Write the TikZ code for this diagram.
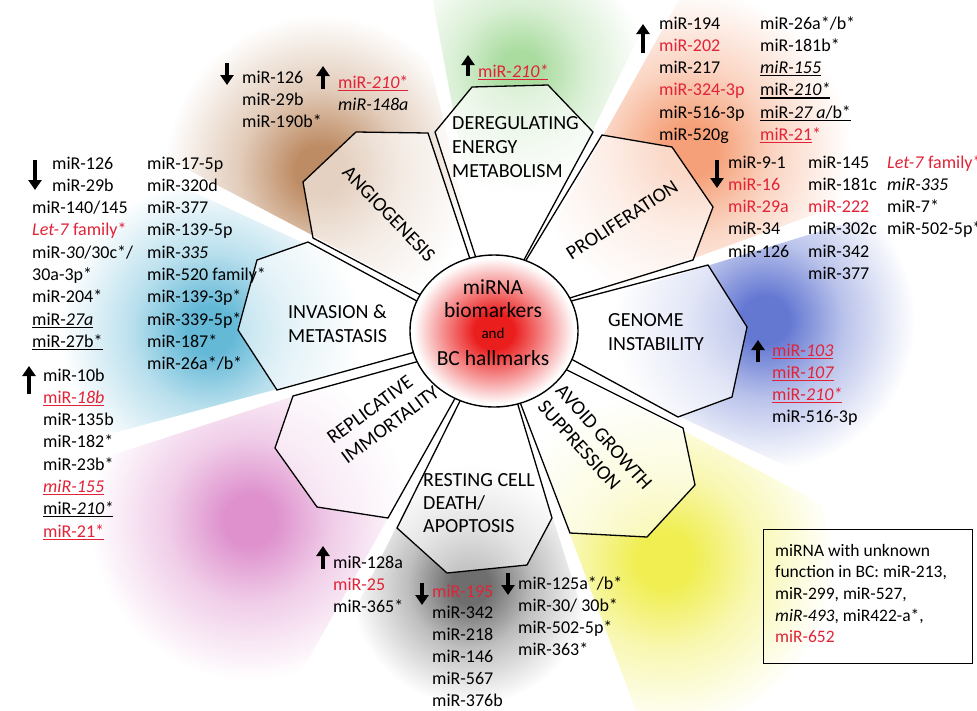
\documentclass[tikz,border=0pt]{standalone}
\usepackage{fontspec}
\setmainfont{Carlito}
\usetikzlibrary{calc,arrows.meta}
\definecolor{mired}{RGB}{226,35,55}
\definecolor{cred}{RGB}{235,30,30}
\definecolor{gBrown}{RGB}{190,140,100}
\definecolor{gGreen}{RGB}{170,220,160}
\definecolor{gOrange}{RGB}{245,160,120}
\definecolor{gBlue}{RGB}{100,120,210}
\definecolor{gYellow}{RGB}{240,238,80}
\definecolor{gGray}{RGB}{110,110,110}
\definecolor{gPink}{RGB}{222,145,205}
\definecolor{gCyan}{RGB}{100,185,215}
\colorlet{glowcol}{white}
\pgfdeclareradialshading{redglow}{\pgfpoint{0bp}{0bp}}{color(0bp)=(cred); color(6bp)=(cred); color(17bp)=(cred!40!white); color(24bp)=(white); color(50bp)=(white)}
\pgfdeclareradialshading[glowcol]{glowshade}{\pgfpoint{0bp}{0bp}}{color(0bp)=(glowcol); color(4bp)=(glowcol); color(13bp)=(glowcol!45!white); color(25bp)=(white); color(50bp)=(white)}
\newcommand\undl[1]{\setbox0\hbox{#1}\rlap{\rule[-2.6pt]{\wd0}{1.1pt}}\box0}
\newcommand\mlist[1]{\begin{tabular}[t]{@{}l@{}}#1\end{tabular}}
\newcommand\rd[1]{\textcolor{mired}{#1}}
\newcommand\lstfont{\fontsize{18}{22.3}\selectfont}
\newcommand\hmfont{\fontsize{20}{24}\selectfont}
\newcommand\hmglow[5]{%
  \begin{scope}
    \clip (C) -- ($(C)+({-(#1)}:800)$) -- ($(C)+({-((#1)+(#2))/2}:1100)$) -- ($(C)+({-(#2)}:800)$) -- cycle;
    \colorlet{glowcol}{#3}
    \shade[shading=glowshade] #4 circle (#5);
  \end{scope}}
\tikzset{
  listtxt/.style={anchor=base west, inner sep=0pt, font=\lstfont},
  hmtxt/.style={inner sep=0pt, font=\hmfont},
  petal/.style={draw=black, line width=1.3pt, fill=white, fill opacity=0.6},
  bigarrow/.style={line width=3.4pt, -{Triangle[width=13pt,length=10pt]}},
}
\begin{document}
\begin{tikzpicture}[x=1pt,y=-1pt]
\useasboundingbox (0,0) rectangle (977,710);
\coordinate (C) at (494,331);

% glows
\hmglow{100.5}{63.8}{gGreen}{(520,70)}{125}
\hmglow{60.8}{20}{gOrange}{(690,150)}{160}
\hmglow{17}{-24.8}{gBlue}{(765,320)}{150}
\hmglow{-27.8}{-69.5}{gYellow}{(665,560)}{170}
\hmglow{-72.5}{-116.5}{gGray}{(470,585)}{120}
\hmglow{240.5}{198}{gPink}{(250,520)}{160}
\hmglow{195}{155.2}{gCyan}{(210,330)}{150}
\hmglow{152.2}{103.5}{gBrown}{(320,170)}{155}

% petals
\filldraw[petal] ($(435,132)!1.1!(475,255)$) -- (435,132) -- (472,87) -- (548,85) -- (593,132) -- ($(593,132)!1.1!(525,258)$) -- cycle;
\filldraw[petal] ($(602,135)!1.1!(528,257)$) -- (602,135) -- (672,147) -- (713,207) -- (693,260) -- ($(693,260)!1.1!(573,297)$) -- cycle;
\filldraw[petal] ($(708,265)!1.1!(575,300)$) -- (708,265) -- (747,327) -- (732,397) -- (678,417) -- ($(678,417)!1.1!(573,360)$) -- cycle;
\filldraw[petal] ($(683,428)!1.1!(567,370)$) -- (683,428) -- (695,485) -- (647,537) -- (570,533) -- ($(570,533)!1.1!(523,410)$) -- cycle;
\filldraw[petal] ($(552,518)!1.1!(518,405)$) -- (552,518) -- (527,565) -- (447,573) -- (397,528) -- ($(397,528)!1.1!(457,407)$) -- cycle;
\filldraw[petal] ($(388,518)!1.1!(453,402)$) -- (388,518) -- (317,507) -- (275,448) -- (293,396) -- ($(293,396)!1.1!(416,362)$) -- cycle;
\filldraw[petal] ($(277,390)!1.1!(415,352)$) -- (277,390) -- (238,330) -- (257,260) -- (308,242) -- ($(308,242)!1.1!(415,300)$) -- cycle;
\filldraw[petal] ($(313,238)!1.1!(417,293)$) -- (313,238) -- (303,182) -- (356,132) -- (428,133) -- ($(428,133)!1.1!(468,253)$) -- cycle;

% centre
\shadedraw[shading=redglow, line width=1.4pt] (C) ellipse [x radius=84pt, y radius=76pt];
\node[anchor=base, inner sep=0pt, font=\fontsize{21.5}{24}\selectfont] (c1) at (493,294) {miRNA};
\node[anchor=base, inner sep=0pt, font=\fontsize{21.5}{24}\selectfont] (c2) at (493,317) {biomarkers};
\node[anchor=base, inner sep=0pt, font=\fontsize{15}{18}\selectfont] (c3) at (493,338) {and};
\node[anchor=base, inner sep=0pt, font=\fontsize{21.5}{24}\selectfont] (c4) at (493,365) {BC hallmarks};

% hallmark labels
\node[hmtxt, rotate=-46] (hAngio) at (389,214) {ANGIOGENESIS};
\node[hmtxt, anchor=base west] (hDereg) at (452,129) {\mlist{DEREGULATING\\ENERGY\\METABOLISM}};
\node[hmtxt, rotate=33] (hProl) at (622,220) {PROLIFERATION};
\node[hmtxt, anchor=base west] (hGen) at (608,326) {\mlist{GENOME\\INSTABILITY}};
\node[hmtxt, rotate=-48, align=left] (hAvoid) at (595,445) {AVOID GROWTH\\SUPPRESSION};
\node[inner sep=0pt, font=\fontsize{20}{23}\selectfont, anchor=base west] (hRest) at (423,486) {\mlist{RESTING CELL\\DEATH/\\APOPTOSIS}};
\node[hmtxt, rotate=36.5, align=left] (hRepl) at (383,415) {REPLICATIVE\\IMMORTALITY};
\node[hmtxt, anchor=base west] (hInv) at (288,318) {\mlist{INVASION \&\\METASTASIS}};

% lists
\node[listtxt] (L1) at (32,169) {\mlist{\hspace{20pt}miR-126\\ \hspace{20pt}miR-29b\\ miR-140/145\\ \rd{\textit{Let-7} family*}\\ miR-\textit{30}/30c*/\\ 30a-3p*\\ miR-204*\\ \undl{miR-\textit{27a}}\\ \undl{miR-27b*}}};
\node[listtxt] (L2) at (147,169) {\mlist{miR-17-5p\\ miR-320d\\ miR-377\\ miR-139-5p\\ miR-\textit{335}\\ miR-520 family*\\ miR-139-3p*\\ miR-339-5p*\\ miR-187*\\ miR-26a*/b*}};
\node[listtxt] (L3) at (43,381) {\mlist{miR-10b\\ \rd{\undl{miR-\textit{18b}}}\\ miR-135b\\ miR-182*\\ miR-23b*\\ \rd{\undl{\textit{miR-155}}}\\ \undl{miR-\textit{210*}}\\ \rd{\undl{miR-21*}}}};
\node[listtxt] (A1) at (242,83) {\mlist{miR-126\\ miR-29b\\ miR-190b*}};
\node[listtxt] (A2) at (338,88) {\mlist{\rd{\undl{miR-\textit{210}*}}\\ \textit{miR-148a}}};
\node[listtxt] (D1) at (478,77) {\rd{\undl{miR-\textit{210*}}}};
\node[listtxt] (P1) at (659,29) {\mlist{miR-194\\ \rd{miR-202}\\ miR-217\\ \rd{miR-324-3p}\\ miR-516-3p\\ miR-520g}};
\node[listtxt] (P2) at (760,29) {\mlist{miR-26a*/b*\\ miR-181b*\\ \undl{\textit{miR-155}}\\ \undl{miR-\textit{210*}}\\ \undl{miR-\textit{27 a}/b*}\\ \rd{\undl{miR-21}*}}};
\node[listtxt] (P3) at (728,168) {\mlist{miR-9-1\\ \rd{miR-16}\\ \rd{miR-29a}\\ miR-34\\ miR-126}};
\node[listtxt] (P4) at (808,168) {\mlist{miR-145\\ miR-181c\\ \rd{miR-222}\\ miR-302c\\ miR-342\\ miR-377}};
\node[listtxt] (P5) at (887,168) {\mlist{\rd{\textit{Let-7} family*}\\ \textit{miR-335}\\ miR-7*\\ miR-502-5p*}};
\node[listtxt] (G1) at (772,356) {\mlist{\rd{\undl{miR-\textit{103}}}\\ \rd{\undl{miR-\textit{107}}}\\ \rd{\undl{miR-\textit{210*}}}\\ miR-516-3p}};
\node[listtxt] (R1) at (333,568) {\mlist{miR-128a\\ \rd{miR-25}\\ miR-365*}};
\node[listtxt, font=\fontsize{18}{21.8}\selectfont] (R2) at (432,597) {\mlist{\rd{miR-195}\\ miR-342\\ miR-218\\ miR-146\\ miR-567\\ miR-376b}};
\node[listtxt] (R3) at (518,589) {\mlist{miR-125a*/b*\\ miR-30/ 30b*\\ miR-502-5p*\\ miR-363*}};

% box
\node[draw, line width=1.1pt, anchor=north west, minimum width=209pt, minimum height=134pt, inner sep=0pt] (box) at (763,529) {};
\node[anchor=base west, inner sep=0pt, font=\fontsize{17.5}{21.7}\selectfont] (boxtxt) at (775,556) {\mlist{miRNA with unknown\\ function in BC: miR-213,\\ miR-299, miR-527,\\ \textit{miR-493}, miR422-a*,\\ \rd{miR-652}}};

% arrows
\coordinate (a1s) at (35,160); \coordinate (a1e) at (35,190);
\coordinate (a2s) at (29,394); \coordinate (a2e) at (29,366);
\coordinate (a3s) at (227,63); \coordinate (a3e) at (227,85);
\coordinate (a4s) at (323,89); \coordinate (a4e) at (323,66);
\coordinate (a5s) at (468,76); \coordinate (a5e) at (468,55);
\coordinate (a6s) at (643,53); \coordinate (a6e) at (643,24);
\coordinate (a7s) at (717,160); \coordinate (a7e) at (717,188);
\coordinate (a8s) at (758,362); \coordinate (a8e) at (758,340);
\coordinate (a9s) at (323,569); \coordinate (a9e) at (323,546);
\coordinate (a10s) at (422,583); \coordinate (a10e) at (422,605);
\coordinate (a11s) at (508,573); \coordinate (a11e) at (508,595);
\foreach \i in {1,...,11} \draw[bigarrow] (a\i s) -- (a\i e);
\end{tikzpicture}
\end{document}
